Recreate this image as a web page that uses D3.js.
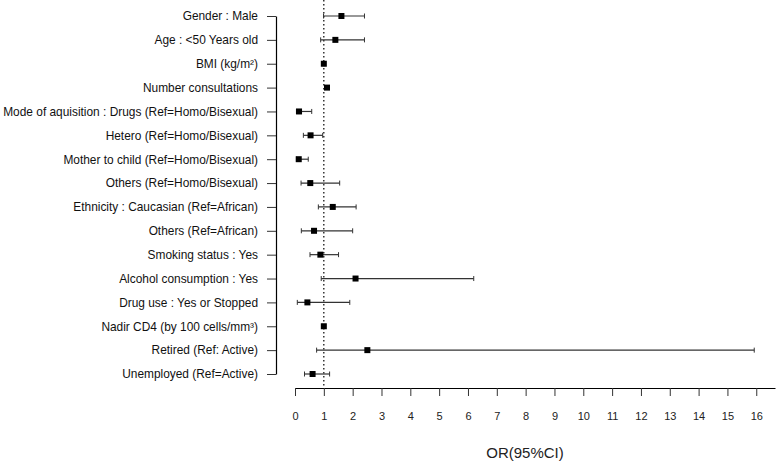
<!DOCTYPE html>
<html>
<head>
<meta charset="utf-8">
<script src="https://cdn.jsdelivr.net/npm/d3@7"></script>
<style>
  body { margin: 0; background: #fff; }
  text { font-family: "Liberation Sans", Arial, sans-serif; }
</style>
</head>
<body>
<svg width="777" height="462"></svg>
<script>
// variables, odds ratios and 95% CI bounds
const labels = [
    "Gender : Male",
    "Age : <50 Years old",
    "BMI (kg/m\u00b2)",
    "Number consultations",
    "Mode of aquisition : Drugs (Ref=Homo/Bisexual)",
    "Hetero (Ref=Homo/Bisexual)",
    "Mother to child (Ref=Homo/Bisexual)",
    "Others (Ref=Homo/Bisexual)",
    "Ethnicity : Caucasian (Ref=African)",
    "Others (Ref=African)",
    "Smoking status : Yes",
    "Alcohol consumption : Yes",
    "Drug use : Yes or Stopped",
    "Nadir CD4 (by 100 cells/mm\u00b3)",
    "Retired (Ref: Active)",
    "Unemployed (Ref=Active)"
];
const or    = [1.61, 1.40, 1.00, 1.11, 0.14, 0.54, 0.13, 0.53, 1.31, 0.66, 0.88, 2.10, 0.43, 1.00, 2.51, 0.61];
const lower = [0.99, 0.89, 0.97, 1.04, 0.05, 0.29, 0.05, 0.21, 0.81, 0.22, 0.52, 0.91, 0.08, 0.96, 0.75, 0.33];
const upper = [2.41, 2.41, 1.03, 1.18, 0.58, 0.96, 0.46, 1.55, 2.12, 2.00, 1.51, 6.20, 1.90, 1.04, 15.93, 1.20];
const xTicks = d3.range(0, 17);

const svg = d3.select("svg");

const x = d3.scaleLinear().domain([0, 16.65]).range([295, 775]);
const y = d3.scalePoint().domain(labels).range([16, 374]);

//x axis
const xAxis = svg.append("g")
    .attr("transform", "translate(0,388)")
    .call(d3.axisBottom(x).tickValues(xTicks).tickSize(8).tickSizeOuter(0).tickPadding(16));
xAxis.select(".domain").attr("stroke", "#000").attr("stroke-width", 1.2);
xAxis.selectAll(".tick line").attr("stroke", "#333");
xAxis.selectAll("text").attr("font-size", 11).attr("fill", "#222")
    .attr("font-family", "Liberation Sans, Arial, sans-serif");

//y axis
const yAxis = svg.append("g")
    .attr("transform", "translate(276,0)")
    .call(d3.axisLeft(y).tickSize(9).tickSizeOuter(0).tickPadding(9));
yAxis.select(".domain").attr("stroke", "#000").attr("stroke-width", 1.2);
yAxis.selectAll(".tick line").attr("stroke", "#333");
yAxis.selectAll("text").attr("font-size", 11.9).attr("fill", "#111")
    .attr("font-family", "Liberation Sans, Arial, sans-serif");

//reference line at OR = 1
svg.append("line")
    .attr("x1", x(1)).attr("x2", x(1))
    .attr("y1", 0).attr("y2", 388)
    .attr("stroke", "#000")
    .attr("stroke-width", 1.2)
    .attr("stroke-dasharray", "1.5,2.5");

//confidence intervals
labels.forEach((d, i) => {
    const g = svg.append("g");
    const yy = y(d);
    g.append("line")
        .attr("x1", x(lower[i])).attr("x2", x(upper[i]))
        .attr("y1", yy).attr("y2", yy)
        .attr("stroke", "#333").attr("stroke-width", 1.2);
    [lower[i], upper[i]].forEach(v => {
        g.append("line")
            .attr("x1", x(v)).attr("x2", x(v))
            .attr("y1", yy - 2.5).attr("y2", yy + 2.5)
            .attr("stroke", "#333").attr("stroke-width", 1);
    });
    g.append("rect")
        .attr("x", x(or[i]) - 3)
        .attr("y", yy - 3)
        .attr("width", 6)
        .attr("height", 6)
        .attr("fill", "#000");
});

//axis title
svg.append("text")
    .attr("x", 525)
    .attr("y", 458)
    .attr("text-anchor", "middle")
    .attr("font-size", 15)
    .attr("fill", "#222")
    .text("OR(95%CI)");
</script>
</body>
</html>
